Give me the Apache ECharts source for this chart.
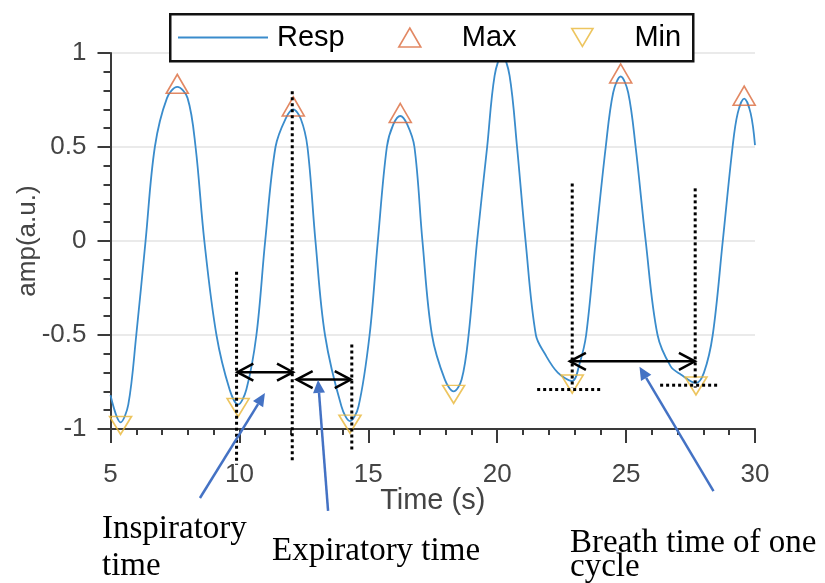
<!DOCTYPE html>
<html>
<head>
<meta charset="utf-8">
<script src="https://cdn.jsdelivr.net/npm/echarts@6/dist/echarts.min.js"></script>
<style>
  html, body { margin: 0; padding: 0; background: #fff; }
  #chart { width: 825px; height: 583px; }
</style>
</head>
<body>
<div id="chart"></div>
<script>
// respiration signal (time in s, amplitude in a.u.)
const respT = [5.0, 5.39, 5.69, 6.0, 6.36, 6.72, 7.19, 7.59, 7.99, 8.30, 8.64, 9.11, 9.62, 9.95,
  10.27, 10.66, 11.0, 11.40, 11.79, 12.09, 12.38, 12.64, 12.95, 13.32, 13.96, 14.29, 14.62, 15.05,
  15.37, 15.72, 15.97, 16.24, 16.51, 16.79, 17.10, 17.47, 17.97, 18.31, 18.62, 18.89, 19.22, 19.61,
  19.90, 20.19, 20.48, 20.77, 21.10, 21.50, 21.85, 22.35, 22.91, 23.20, 23.45, 23.82, 24.21, 24.50,
  24.79, 25.08, 25.37, 25.76, 26.22, 26.73, 27.12, 27.71, 28.02, 28.36, 28.75, 29.13, 29.33, 29.58,
  29.83, 30.0]
const respAmp = [-0.82, -0.965, -0.87, -0.5, 0, 0.5, 0.76, 0.82, 0.76, 0.5, 0, -0.5, -0.79, -0.87,
  -0.79, -0.5, 0, 0.5, 0.65, 0.70, 0.65, 0.5, 0, -0.5, -0.88, -0.958, -0.88, -0.5,
  0, 0.5, 0.62, 0.665, 0.62, 0.5, 0, -0.5, -0.737, -0.80, -0.737, -0.5, 0, 0.5,
  0.88, 0.99, 0.88, 0.5, 0, -0.5, -0.60, -0.70, -0.745, -0.65, -0.5, 0, 0.5, 0.79,
  0.875, 0.79, 0.5, 0, -0.5, -0.667, -0.71, -0.755, -0.70, -0.5, 0, 0.5, 0.68, 0.757,
  0.68, 0.51]

const maxT = [7.59, 12.09, 16.24, 20.19, 24.79, 29.58]
const maxAmp = [0.82, 0.70, 0.665, 0.99, 0.875, 0.757]
const minT = [5.39, 9.95, 14.29, 18.31, 22.91, 27.71]
const minAmp = [-0.965, -0.87, -0.958, -0.80, -0.745, -0.755]

const xTicks = [5, 10, 15, 20, 25, 30]
const yTicks = [-1, -0.5, 0, 0.5, 1]

// annotations: [x1, y1, x2, y2] in data units
const dottedLines = [
  [9.89, -0.164, 9.89, -1.19],
  [12.05, 0.797, 12.05, -1.17],
  [14.36, -0.55, 14.36, -1.12],
  [22.91, 0.306, 22.91, -0.78],
  [27.68, 0.28, 27.68, -0.78],
  [21.55, -0.79, 24.0, -0.79],
  [26.32, -0.767, 28.55, -0.767]
]
const spanArrows = [
  [9.92, -0.698, 12.08, -0.698],
  [12.22, -0.737, 14.32, -0.737],
  [22.82, -0.64, 27.67, -0.64]
]
const pointerArrows = [
  [8.47, -1.367, 10.99, -0.809],
  [13.44, -1.435, 13.05, -0.739],
  [28.39, -1.33, 25.52, -0.669]
]

const zip = (a, b) => a.map((v, i) => [v, b[i]])
const axisColor = '#3a3a3a'
const labelColor = '#444'
const respColor = '#3a8ccc'
const maxColor = '#DB6A3C'
const minColor = '#E9B637'
const minSymbol = 'path://M0,0L20,0L10,17Z'
const serif = 'Liberation Serif'

function ends(api) {
  const a = api.coord([api.value(0), api.value(1)])
  const b = api.coord([api.value(2), api.value(3)])
  const len = Math.hypot(b[0] - a[0], b[1] - a[1])
  const ux = (b[0] - a[0]) / len, uy = (b[1] - a[1]) / len
  return { a, b, ux, uy, nx: -uy, ny: ux }
}

function renderDotted(params, api) {
  const { a, b } = ends(api)
  return {
    type: 'line',
    shape: { x1: a[0], y1: a[1], x2: b[0], y2: b[1] },
    style: { stroke: '#000', lineWidth: 3, lineDash: [3, 3] }
  }
}

function renderSpan(params, api) {
  const { a, b, ux, uy, nx, ny } = ends(api)
  const L = 16, W = 8.5
  const head = (p, s) => [
    [p[0] - s * L * ux + W * nx, p[1] - s * L * uy + W * ny],
    p,
    [p[0] - s * L * ux - W * nx, p[1] - s * L * uy - W * ny]
  ]
  const st = { stroke: '#000', lineWidth: 2.5, fill: null }
  return {
    type: 'group',
    children: [
      { type: 'line', shape: { x1: a[0], y1: a[1], x2: b[0], y2: b[1] }, style: st },
      { type: 'polyline', shape: { points: head(b, 1) }, style: st },
      { type: 'polyline', shape: { points: head(a, -1) }, style: st }
    ]
  }
}

function renderPointer(params, api) {
  const { a, b, ux, uy, nx, ny } = ends(api)
  const L = 13, W = 6
  const base = [b[0] - L * ux, b[1] - L * uy]
  return {
    type: 'group',
    children: [
      { type: 'line', shape: { x1: a[0], y1: a[1], x2: base[0], y2: base[1] },
        style: { stroke: '#4472C4', lineWidth: 2.5 } },
      { type: 'polygon',
        shape: { points: [b, [base[0] + W * nx, base[1] + W * ny], [base[0] - W * nx, base[1] - W * ny]] },
        style: { fill: '#4472C4' } }
    ]
  }
}

const chart = echarts.init(document.getElementById('chart'))

const tickStyle = { color: axisColor, width: 2 }

chart.setOption({
  animation: false,
  backgroundColor: '#fff',
  textStyle: { fontFamily: 'Liberation Sans' },
  grid: { left: 110.5, right: 70, top: 53, bottom: 154 },
  xAxis: {
    type: 'value',
    min: xTicks[0],
    max: xTicks[xTicks.length - 1],
    interval: xTicks[1] - xTicks[0],
    axisLine: { show: true, onZero: false, lineStyle: tickStyle },
    axisTick: { show: true, length: 14, lineStyle: tickStyle },
    minorTick: { show: true, splitNumber: 5, length: 6, lineStyle: tickStyle },
    splitLine: { show: false },
    axisLabel: { fontSize: 26, color: labelColor, margin: 33 },
    name: 'Time (s)',
    nameLocation: 'middle',
    nameGap: 57,
    nameMoveOverlap: false,
    nameTextStyle: { fontSize: 29, color: labelColor }
  },
  yAxis: {
    type: 'value',
    min: yTicks[0],
    max: yTicks[yTicks.length - 1],
    interval: yTicks[1] - yTicks[0],
    axisLine: { show: true, onZero: false, lineStyle: tickStyle },
    axisTick: { show: true, length: 13, lineStyle: tickStyle },
    minorTick: { show: true, splitNumber: 5, length: 7, lineStyle: tickStyle },
    splitLine: { show: true, lineStyle: { color: '#e3e3e3', width: 1.5 } },
    axisLabel: { fontSize: 26, color: labelColor, margin: 24 },
    name: 'amp(a.u.)',
    nameLocation: 'middle',
    nameGap: 70,
    nameMoveOverlap: false,
    nameTextStyle: { fontSize: 26, color: labelColor }
  },
  legend: [
    {
      data: [{ name: 'Resp', icon: 'rect' }], left: 178, top: 23, padding: 0,
      itemWidth: 90, itemHeight: 2, selectedMode: false, z: 20,
      itemStyle: { color: respColor },
      textStyle: { fontSize: 29, color: '#000', padding: [0, 0, 0, 4] }
    },
    {
      data: [{ name: 'Max', icon: 'triangle' }], left: 398, top: 23, padding: 0,
      itemWidth: 22, itemHeight: 19, selectedMode: false, z: 20,
      itemStyle: { color: 'rgba(0,0,0,0)', borderColor: maxColor, borderWidth: 1.6 },
      textStyle: { fontSize: 29, color: '#000', padding: [0, 0, 0, 36] }
    },
    {
      data: [{ name: 'Min', icon: minSymbol }], left: 571, top: 23, padding: 0,
      itemWidth: 22, itemHeight: 18, selectedMode: false, z: 20,
      itemStyle: { color: 'rgba(0,0,0,0)', borderColor: minColor, borderWidth: 1.6 },
      textStyle: { fontSize: 29, color: '#000', padding: [0, 0, 0, 36] }
    }
  ],
  graphic: [
    { type: 'rect', left: 169, top: 13, z: 10,
      shape: { width: 523, height: 47 },
      style: { fill: '#fff', stroke: '#111', lineWidth: 2.5 } },
    { type: 'text', left: 102, top: 513, style: { text: 'Inspiratory', fontSize: 33, fontFamily: serif, fill: '#000' } },
    { type: 'text', left: 102, top: 550, style: { text: 'time', fontSize: 33, fontFamily: serif, fill: '#000' } },
    { type: 'text', left: 272, top: 535, style: { text: 'Expiratory time', fontSize: 33, fontFamily: serif, fill: '#000' } },
    { type: 'text', left: 570, top: 527, style: { text: 'Breath time of one', fontSize: 33, fontFamily: serif, fill: '#000' } },
    { type: 'text', left: 570, top: 551, style: { text: 'cycle', fontSize: 33, fontFamily: serif, fill: '#000' } }
  ],
  series: [
    {
      name: 'Resp',
      type: 'line',
      data: zip(respT, respAmp),
      symbol: 'none',
      smooth: 0.35,
      lineStyle: { color: respColor, width: 1.8 },
      itemStyle: { color: respColor },
      z: 2
    },
    {
      name: 'Max',
      type: 'scatter',
      data: zip(maxT, maxAmp),
      symbol: 'triangle',
      symbolSize: [22, 19],
      symbolOffset: [0, -3],
      itemStyle: { color: 'rgba(0,0,0,0)', borderColor: maxColor, borderWidth: 1.6 },
      z: 4
    },
    {
      name: 'Min',
      type: 'scatter',
      data: zip(minT, minAmp),
      symbol: minSymbol,
      symbolSize: [22, 18],
      symbolOffset: [0, 3],
      itemStyle: { color: 'rgba(0,0,0,0)', borderColor: minColor, borderWidth: 1.6 },
      z: 4
    },
    { type: 'custom', renderItem: renderDotted, data: dottedLines, clip: false, silent: true, z: 5 },
    { type: 'custom', renderItem: renderSpan, data: spanArrows, clip: false, silent: true, z: 5 },
    { type: 'custom', renderItem: renderPointer, data: pointerArrows, clip: false, silent: true, z: 5 }
  ]
})
</script>
</body>
</html>
